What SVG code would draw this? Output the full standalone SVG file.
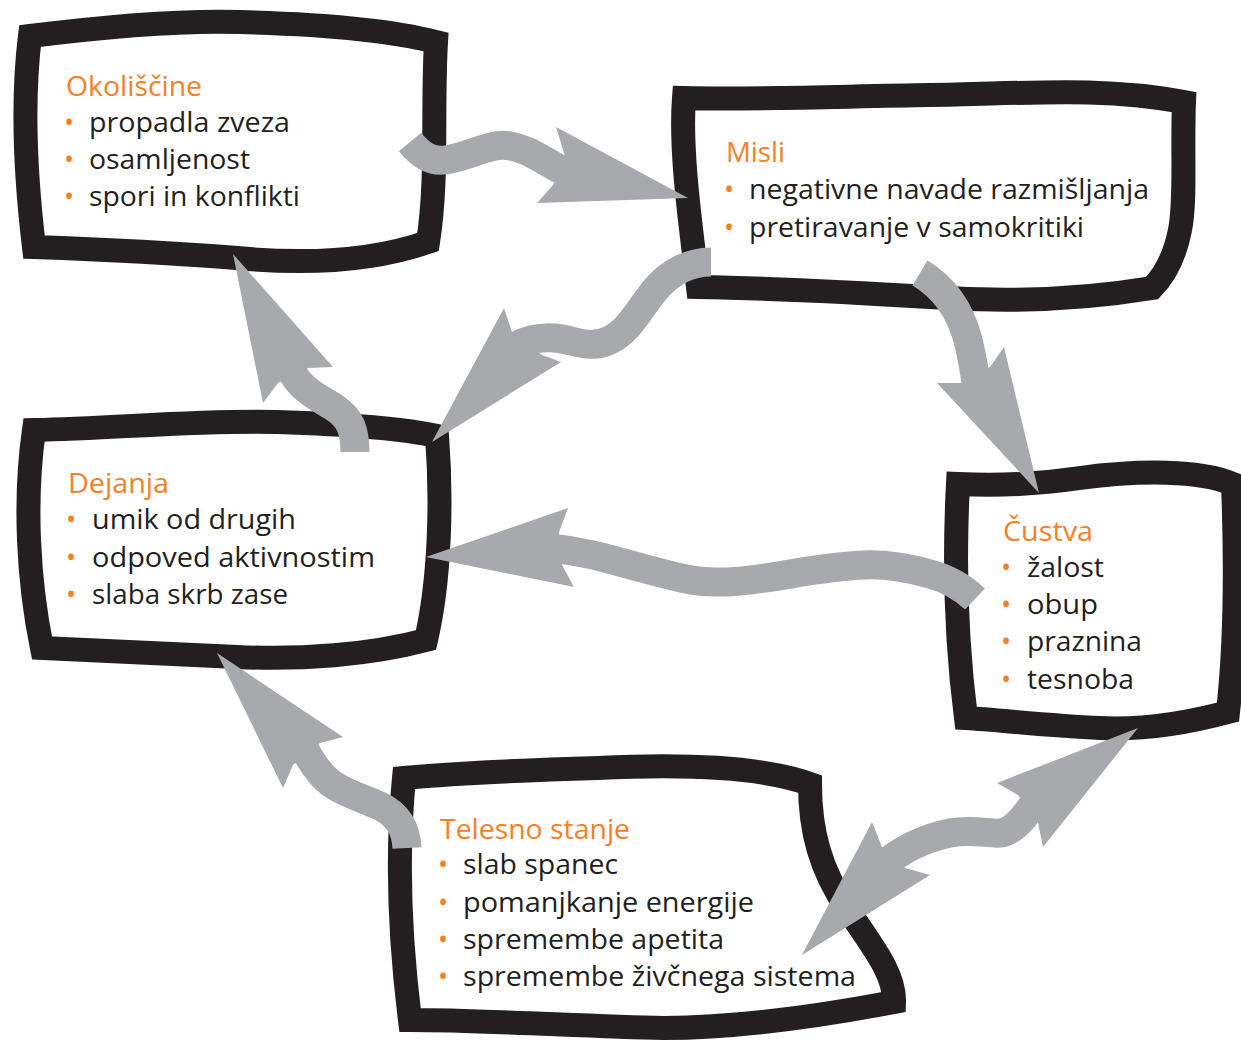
<svg xmlns="http://www.w3.org/2000/svg" width="1241" height="1043" viewBox="0 0 1241 1043">
<style>
.box{fill:#fff;stroke:#231f20;stroke-width:24;stroke-linejoin:miter;stroke-miterlimit:10}
.band{fill:none;stroke:#a7a9ac;stroke-width:29}
.head{fill:#a7a9ac}
text{font-family:"Open Sans","Noto Sans","DejaVu Sans",sans-serif;font-size:27px}
.t{fill:#f58025}
.b{fill:#f58025}
.i{fill:#231f20}
</style>
<rect width="1241" height="1043" fill="#fff"/>
<g id="node-okoliscine">
<path class="box" d="M30,36 C110,26 180,20 240,22 C320,24 390,30 436,42 C432,110 438,180 428,242 C370,262 300,264 237,258 C160,252 90,249 34,247 C26,180 22,100 30,36 Z"/>
<text class="t" x="66" y="96" textLength="136" lengthAdjust="spacingAndGlyphs">Okoliščine</text>
<text class="b" x="64" y="132">•</text><text class="i" x="89" y="132" textLength="201" lengthAdjust="spacingAndGlyphs">propadla zveza</text>
<text class="b" x="64" y="169">•</text><text class="i" x="89" y="169" textLength="161" lengthAdjust="spacingAndGlyphs">osamljenost</text>
<text class="b" x="64" y="206">•</text><text class="i" x="89" y="206" textLength="211" lengthAdjust="spacingAndGlyphs">spori in konflikti</text>
</g>
<g id="node-misli">
<path class="box" d="M684,98 C760,100 850,96 930,95 C1020,94 1100,86 1184,102 C1182,150 1186,200 1180,230 C1175,255 1165,275 1152,288 C1080,300 1000,302 930,297 C850,292 760,288 698,287 C690,220 680,150 684,98 Z"/>
<text class="t" x="726" y="162" textLength="59" lengthAdjust="spacingAndGlyphs">Misli</text>
<text class="b" x="724" y="199">•</text><text class="i" x="749" y="199" textLength="400" lengthAdjust="spacingAndGlyphs">negativne navade razmišljanja</text>
<text class="b" x="724" y="237">•</text><text class="i" x="749" y="237" textLength="335" lengthAdjust="spacingAndGlyphs">pretiravanje v samokritiki</text>
</g>
<g id="node-dejanja">
<path class="box" d="M34,430 C120,428 200,420 277,422 C340,424 400,428 437,436 C442,500 440,580 426,640 C370,655 300,660 237,657 C160,653 90,650 42,648 C28,580 24,500 34,430 Z"/>
<text class="t" x="68" y="493" textLength="101" lengthAdjust="spacingAndGlyphs">Dejanja</text>
<text class="b" x="66" y="529">•</text><text class="i" x="92" y="529" textLength="204" lengthAdjust="spacingAndGlyphs">umik od drugih</text>
<text class="b" x="66" y="567">•</text><text class="i" x="92" y="567" textLength="283" lengthAdjust="spacingAndGlyphs">odpoved aktivnostim</text>
<text class="b" x="66" y="604">•</text><text class="i" x="92" y="604" textLength="196" lengthAdjust="spacingAndGlyphs">slaba skrb zase</text>
</g>
<g id="node-custva">
<path class="box" d="M958,484 C1000,486 1040,484 1080,478 C1140,470 1200,470 1233,484 C1236,560 1236,640 1228,712 C1180,725 1140,730 1100,728 C1050,726 1000,720 966,718 C956,640 954,560 958,484 Z"/>
<text class="t" x="1003" y="541" textLength="90" lengthAdjust="spacingAndGlyphs">Čustva</text>
<text class="b" x="1001" y="577">•</text><text class="i" x="1027" y="577" textLength="77" lengthAdjust="spacingAndGlyphs">žalost</text>
<text class="b" x="1001" y="614">•</text><text class="i" x="1027" y="614" textLength="71" lengthAdjust="spacingAndGlyphs">obup</text>
<text class="b" x="1001" y="651">•</text><text class="i" x="1027" y="651" textLength="115" lengthAdjust="spacingAndGlyphs">praznina</text>
<text class="b" x="1001" y="689">•</text><text class="i" x="1027" y="689" textLength="107" lengthAdjust="spacingAndGlyphs">tesnoba</text>
</g>
<g id="node-telesno">
<path class="box" d="M404,778 C470,772 530,770 598,768 C680,764 760,766 810,784 C810,830 820,870 848,910 C875,950 895,975 894,1002 C820,1016 740,1028 664,1028 C580,1026 480,1020 410,1020 C400,940 396,860 404,778 Z"/>
<text class="t" x="440" y="839" textLength="190" lengthAdjust="spacingAndGlyphs">Telesno stanje</text>
<text class="b" x="438" y="874">•</text><text class="i" x="463" y="874" textLength="155" lengthAdjust="spacingAndGlyphs">slab spanec</text>
<text class="b" x="438" y="912">•</text><text class="i" x="463" y="912" textLength="291" lengthAdjust="spacingAndGlyphs">pomanjkanje energije</text>
<text class="b" x="438" y="949">•</text><text class="i" x="463" y="949" textLength="261" lengthAdjust="spacingAndGlyphs">spremembe apetita</text>
<text class="b" x="438" y="986">•</text><text class="i" x="463" y="986" textLength="393" lengthAdjust="spacingAndGlyphs">spremembe živčnega sistema</text>
</g>
<g id="connectors">
<path class="band" d="M410,142 C420,154 430,162 445,160 C470,157 490,142 510,146 C535,150 550,168 580,178"/>
<polygon class="head" points="556,127 688,198 537,203 553,185 565,156"/>
<path class="band" d="M711,262 C690,262 670,272 655,290 C640,308 630,330 610,340 C590,350 575,340 555,338 C535,336 520,342 505,352"/>
<polygon class="head" points="504,308 432,442 561,362 542,355 512,332"/>
<path class="band" d="M920,273 C945,288 960,310 968,340 C973,360 975,375 978,395"/>
<polygon class="head" points="937,383 1039,493 1004,347 990,367 962,383"/>
<path class="band" d="M355,452 C355,430 350,418 335,408 C318,397 300,390 290,368"/>
<polygon class="head" points="263,403 233,254 333,367 308,368 278,383"/>
<path class="band" d="M975,599 C960,585 945,578 930,574 C905,567 885,564 864,565 C810,567 760,583 716,582 C690,582 665,574 642,568 C615,561 590,552 550,548"/>
<polygon class="head" points="568,508 426,557 574,587 562,565 559,532"/>
<path class="band" d="M407,848 C406,828 398,815 380,806 C355,795 335,790 322,775 C314,766 310,760 304,748"/>
<polygon class="head" points="283,788 217,653 343,737 320,743 293,765"/>
<path class="band" d="M880,868 C900,850 925,838 950,833 C975,828 995,836 1005,832 C1018,827 1028,812 1040,795"/>
<polygon class="head" points="872,822 802,955 930,875 905,868 882,847"/>
<polygon class="head" points="997,783 1138,728 1043,847 1038,823 1018,795"/>
</g>
</svg>
